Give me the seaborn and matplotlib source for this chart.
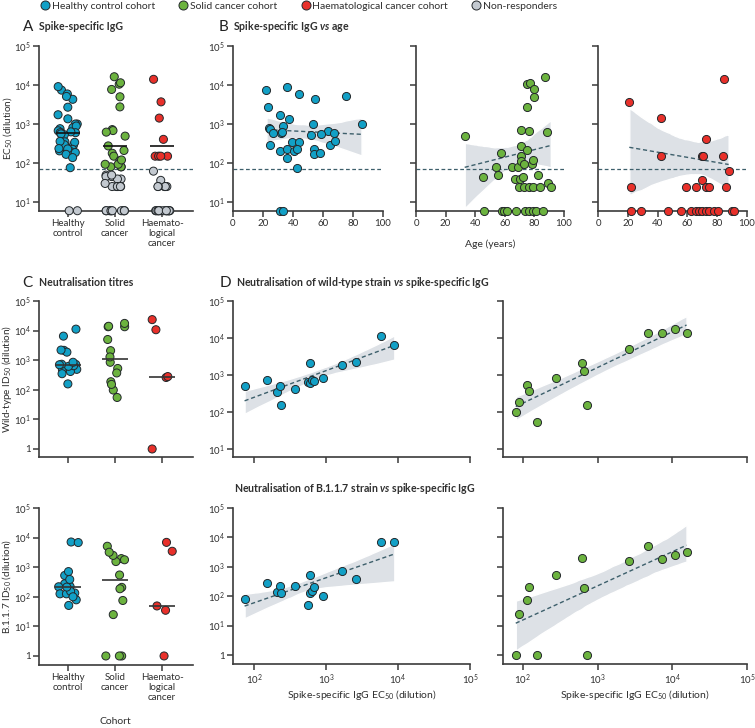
import numpy as np
import pandas as pd
import matplotlib
matplotlib.use("Agg")
import matplotlib.pyplot as plt
import seaborn as sns
from matplotlib.lines import Line2D

# spike-specific IgG EC50 (dilution) by age, panels A and B; 6 = undetectable
hc_age = [22.3, 36.2, 44, 54.5, 75.2, 23.2, 31.3, 37, 53.3, 85.7, 24.1, 24.6, 33.5, 26.8, 32.1, 32.6, 63.4, 67,
          51.8, 58.9, 24.6, 39.3, 44, 64.7, 68.3, 31.3, 36.2, 40.6, 42.6, 54.2, 54.2, 58, 36.2, 42.9, 31.3, 33.5]
hc_igg = [7400, 9100, 5900, 4300, 5100, 2700, 1730, 1360, 1000, 1000, 810, 760, 890, 600, 600, 630, 670, 600,
          530, 560, 285, 340, 350, 295, 360, 205, 225, 200, 235, 230, 167, 186, 138, 76, 6, 6]
sc_age = [32.9, 45, 46, 54, 55.2, 57.2, 58.1, 59.5, 61.7, 65, 66.9, 67.8, 69.1, 69.8, 70.3, 70.9, 70.9, 70.9,
          71.1, 72, 73.2, 73.2, 73.6, 74.8, 75.2, 75.2, 76.1, 76.1, 76.5, 77.3, 78.6, 78.8, 79, 79, 79.9, 79.9,
          81, 82.6, 84, 85.5, 87, 88.2, 89.1, 91.1]
sc_igg = [490, 45, 6, 80, 49, 178, 6, 6, 6, 80, 39, 6, 80, 25, 39, 720, 275, 150,
          115, 45, 93, 25, 6, 10500, 2750, 210, 680, 25, 6, 11400, 93, 120, 25, 6, 7700, 5000,
          6, 49, 25, 6, 16300, 620, 30, 25]
hm_age = [21, 21.9, 22, 28.9, 42.5, 42.5, 47, 55.7, 58.8, 62.2, 65.5, 65.5, 67.5, 69.6, 70.5, 69.6, 69.6,
          72.7, 72.7, 72.7, 74.5, 74.5, 77.8, 80.8, 83.7, 84.8, 85.7, 87.7, 89.7, 91.5]
hm_igg = [3700, 25, 6, 6, 1420, 150, 6, 6, 25, 6, 25, 6, 6, 150, 150, 36, 6,
          405, 25, 6, 25, 6, 6, 6, 150, 14000, 25, 62, 6, 6]
threshold = 70
floor_igg = 6

# neutralisation ID50 (dilution) and matching IgG, panels C and D; 1 = undetectable
hc_nab_igg = [74, 150, 207, 228, 237, 366, 560, 600, 605, 640, 675, 910, 1690, 2620, 5750, 8900]
hc_wt = [490, 720, 350, 490, 158, 415, 650, 620, 2150, 730, 700, 850, 1870, 2200, 11200, 6500]
hc_b117 = [79, 275, 134, 218, 126, 224, 51, 126, 525, 152, 213, 100, 710, 385, 7100, 6800]
sc_nab_igg = [80, 89, 112, 121, 152, 281, 610, 660, 720, 2640, 4750, 7250, 11000, 15500]
sc_wt = [98, 187, 525, 370, 55, 850, 2100, 1290, 152, 5000, 13500, 13500, 17500, 14000]
sc_b117 = [1, 25, 75, 208, 1, 545, 1950, 187, 1, 1550, 5100, 1780, 2500, 3200]
hm_wt = [23500, 10700, 260, 280, 1]
hm_b117 = [6900, 3450, 49, 35, 1]

cohorts = ["Healthy control", "Solid cancer", "Haematological cancer"]
cohort_ticks = ["Healthy\ncontrol", "Solid\ncancer", "Haemato-\nlogical\ncancer"]
legend_names = ["Healthy control cohort", "Solid cancer cohort", "Haematological cancer cohort", "Non-responders"]
colors = ["#12a0c6", "#6cb33f", "#e8302a", "#c3c9d0"]

edge = "#23282b"
axis_col = "#3b3b3b"
text_col = "#2f2f2f"
line_col = "#3d5f6b"
band_col = "#dde1e6"

sns.set_style("ticks")
plt.rcParams["font.family"] = ["Lato", "DejaVu Sans"]
plt.rcParams["mathtext.fontset"] = "custom"
plt.rcParams["mathtext.rm"] = "Lato"
plt.rcParams["mathtext.it"] = "Lato:italic:bold"
plt.rcParams["mathtext.default"] = "regular"
plt.rcParams["text.color"] = text_col

W, H = 755, 728
fig = plt.figure(figsize=(W / 100, H / 100), dpi=100)


def add_ax(l, t, r, b):
    return fig.add_axes([l / W, 1 - b / H, (r - l) / W, (b - t) / H])


def style(ax):
    sns.despine(ax=ax)
    for s in ["left", "bottom"]:
        ax.spines[s].set_color(axis_col)
        ax.spines[s].set_linewidth(1.2)
    ax.tick_params(length=4, width=1.1, color=axis_col, labelsize=7, pad=2, labelcolor=text_col)
    ax.set_xlabel("")
    ax.set_ylabel("")


def log_yticks(ax, lo, labels=True):
    ticks = list(range(lo, 6))
    ax.set_yticks(ticks)
    if labels:
        ax.set_yticklabels(["1" if t == 0 else "$10^{%d}$" % t for t in ticks])
    else:
        ax.set_yticklabels([])


def fix_band(ax):
    for c in ax.collections:
        c.set_facecolor(band_col)
        c.set_alpha(1)
        c.set_zorder(0)


def ftext(x, y, s, **kw):
    fig.text(x / W, 1 - y / H, s, **kw)


strip_kw = dict(jitter=0.22, size=5.8, linewidth=0.7, edgecolor=edge, legend=False, clip_on=False, zorder=3)

# ---- A: spike-specific IgG by cohort
rows = []
for name, leg, vals in zip(cohorts, legend_names, [hc_igg, sc_igg, hm_igg]):
    for v in vals:
        rows.append({"cohort": name, "log": np.log10(v), "grp": leg if v >= threshold else "Non-responders"})
dfA = pd.DataFrame(rows)

axA = add_ax(39, 46, 193, 211)
axA.axhline(np.log10(threshold), color=line_col, lw=0.9, ls=(0, (3, 2)), zorder=1)
np.random.seed(11)
sns.stripplot(data=dfA, x="cohort", y="log", hue="grp", order=cohorts, hue_order=legend_names,
              palette=dict(zip(legend_names, colors)), ax=axA, **strip_kw)
for i, vals in enumerate([hc_igg, sc_igg, hm_igg]):
    resp = [v for v in vals if v >= threshold]
    axA.hlines(np.log10(np.median(resp)), i - 0.25, i + 0.25, color="#111111", lw=1.2, zorder=5)
axA.set_xlim(-0.62, 2.66)
axA.set_ylim(np.log10(5.9), 5)
style(axA)
log_yticks(axA, 1)
axA.set_xticks(range(3))
axA.set_xticklabels(cohort_ticks, linespacing=1.15)
ftext(7, 128, "EC$_{50}$ (dilution)", rotation=90, ha="center", va="center", fontsize=7.2)

# ---- B: IgG vs age (fit on detectable values)
b_axes = [(233, 383), (416, 564), (598, 747)]
for i, ((l, r), age, igg) in enumerate(zip(b_axes, [hc_age, sc_age, hm_age], [hc_igg, sc_igg, hm_igg])):
    ax = add_ax(l, 46, r, 211)
    age = np.array(age)
    ly = np.log10(igg)
    keep = np.array(igg) > floor_igg
    sns.regplot(x=age[keep], y=ly[keep], ax=ax, scatter=False, ci=95, seed=3, color=line_col,
                line_kws=dict(ls=(0, (3, 2)), lw=1.0, zorder=2))
    fix_band(ax)
    ax.axhline(np.log10(threshold), color=line_col, lw=0.9, ls=(0, (3, 2)), zorder=1)
    sns.scatterplot(x=age, y=ly, ax=ax, color=colors[i], s=34, edgecolor=edge, linewidth=0.7,
                    clip_on=False, zorder=3)
    ax.set_xlim(0, 100)
    ax.set_ylim(np.log10(5.9), 5)
    style(ax)
    ax.set_xticks(range(0, 101, 20))
    log_yticks(ax, 1, labels=(i == 0))
ftext(490, 244, "Age (years)", ha="center", va="center", fontsize=7.5)

# ---- C: neutralisation titres by cohort
c_sets = [(301, 457, [hc_wt, sc_wt, hm_wt], "Wild-type ID$_{50}$ (dilution)"),
          (508, 665, [hc_b117, sc_b117, hm_b117], "B.1.1.7 ID$_{50}$ (dilution)")]
for j, (t, b, sets, ylab) in enumerate(c_sets):
    ax = add_ax(39, t, 193, b)
    dfC = pd.DataFrame([{"cohort": name, "log": np.log10(v)} for name, vals in zip(cohorts, sets) for v in vals])
    np.random.seed(5 + j)
    sns.stripplot(data=dfC, x="cohort", y="log", hue="cohort", order=cohorts, hue_order=cohorts,
                  palette=dict(zip(cohorts, colors)), ax=ax, **strip_kw)
    for i, vals in enumerate(sets):
        ax.hlines(np.log10(np.median(vals)), i - 0.28, i + 0.28, color="#333333", lw=1.2, zorder=5)
    ax.set_xlim(-0.62, 2.66)
    ax.set_ylim(-8 / 29.5 if j == 0 else -9 / 29.5, 5)
    style(ax)
    log_yticks(ax, 0)
    ax.set_xticks(range(3))
    if j == 1:
        ax.set_xticklabels(cohort_ticks, linespacing=1.15)
    else:
        ax.set_xticklabels([])
    ftext(7, (t + b) / 2, ylab, rotation=90, ha="center", va="center", fontsize=7.2)
ftext(115, 722, "Cohort", ha="center", va="center", fontsize=7.5)

# ---- D: neutralisation vs spike-specific IgG
d_rows = [(301, 457, 1 - 8 / 37, 1), (508, 664, -9 / 29.5, 0)]
d_cols = [(233, 470, 2 - 21 / 72, 362), (503, 747, 2 - 20 / 74.7, 635)]
d_data = [[(hc_nab_igg, hc_wt), (sc_nab_igg, sc_wt)], [(hc_nab_igg, hc_b117), (sc_nab_igg, sc_b117)]]
for j, (t, b, ylo, ytick_lo) in enumerate(d_rows):
    for i, (l, r, xlo, cx) in enumerate(d_cols):
        ax = add_ax(l, t, r, b)
        xs, ys = d_data[j][i]
        lx, ly = np.log10(xs), np.log10(ys)
        sns.regplot(x=lx, y=ly, ax=ax, scatter=False, ci=95, seed=3, color=line_col,
                    line_kws=dict(ls=(0, (3, 2)), lw=1.0, zorder=2))
        fix_band(ax)
        sns.scatterplot(x=lx, y=ly, ax=ax, color=colors[i], s=34, edgecolor=edge, linewidth=0.7,
                        clip_on=False, zorder=3)
        ax.set_xlim(xlo, 5)
        ax.set_ylim(ylo, 5)
        style(ax)
        log_yticks(ax, ytick_lo, labels=(i == 0))
        ax.set_xticks([2, 3, 4, 5])
        if j == 1:
            ax.set_xticklabels(["$10^{%d}$" % k for k in [2, 3, 4, 5]])
            ftext(cx, 695, "Spike-specific IgG EC$_{50}$ (dilution)", ha="center", va="center", fontsize=7.5)
        else:
            ax.set_xticklabels([])

# ---- titles
title_kw = dict(fontsize=7.6, fontweight="bold", va="center")
letter_kw = dict(fontsize=11, fontweight="normal", va="center", color="#222222")
ftext(23, 27, "A", **letter_kw)
ftext(39, 27, "Spike-specific IgG", **title_kw)
ftext(219, 27, "B", **letter_kw)
ftext(233, 27, "Spike-specific IgG $\\mathit{vs}$ age", **title_kw)
ftext(22, 283, "C", **letter_kw)
ftext(39, 283, "Neutralisation titres", **title_kw)
ftext(220, 283, "D", **letter_kw)
ftext(236, 283, "Neutralisation of wild-type strain $\\mathit{vs}$ spike-specific IgG", **title_kw)
ftext(234, 489, "Neutralisation of B.1.1.7 strain $\\mathit{vs}$ spike-specific IgG", **title_kw)

# ---- legend
handles = [Line2D([], [], marker="o", ls="", markerfacecolor=c, markeredgecolor=edge,
                  markeredgewidth=0.7, markersize=6.5) for c in colors]
fig.legend(handles, legend_names, loc="center left", bbox_to_anchor=(40 / W, 1 - 6 / H), ncol=4,
           frameon=False, fontsize=7.5, handletextpad=0.15, columnspacing=2.2, handlelength=1.0,
           borderaxespad=0, borderpad=0)

fig.savefig("out.png", dpi=100)
